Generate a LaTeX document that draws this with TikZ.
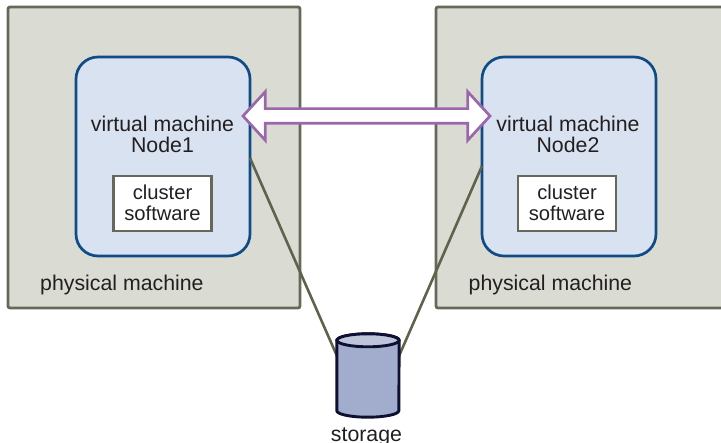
\documentclass[tikz,border=0pt]{standalone}
\usepackage{fontspec}
\setmainfont{Liberation Sans}
\usetikzlibrary{shapes.arrows}
\definecolor{pmfill}{HTML}{DADBD3}
\definecolor{pmline}{HTML}{66685A}
\definecolor{vmfill}{HTML}{D8E2F0}
\definecolor{vmline}{HTML}{0F4C87}
\definecolor{stfill}{HTML}{A2ACCC}
\definecolor{stline}{HTML}{0D1030}
\definecolor{conn}{HTML}{5F634C}
\definecolor{arrowc}{HTML}{9B67AB}
\definecolor{txt}{HTML}{231F20}
\tikzset{
  x=1pt,y=-1pt,
  physbox/.style={draw=pmline,fill=pmfill,line width=2.8pt,rounded corners=2pt,minimum width=292pt,minimum height=301pt,inner sep=0pt},
  vmbox/.style={draw=vmline,fill=vmfill,line width=2.7pt,rounded corners=22pt,minimum width=174pt,minimum height=199pt,inner sep=0pt},
  softbox/.style={draw=pmline,fill=white,line width=2.8pt,minimum width=98pt,minimum height=55pt,inner sep=0pt},
  label/.style={text=txt,inner sep=0pt,align=center,font=\fontsize{21.3}{21}\selectfont},
  softlabel/.style={text=txt,inner sep=0pt,align=center,font=\fontsize{20.2}{21}\selectfont},
  link/.style={draw=conn,line width=2.6pt},
  bothways/.style={double arrow,draw=arrowc,fill=white,line width=2.7pt,inner sep=6pt,minimum height=247pt,double arrow head extend=17pt,double arrow tip angle=95},
  drumline/.style={draw=stline,line width=2.9pt},
}
\begin{document}
\begin{tikzpicture}
\useasboundingbox (0,0) rectangle (721,443);
\clip (0,0) rectangle (721,443);
\node[physbox] (pm1) at (154,157.5) {};
\node[physbox] (pm2) at (582,157.5) {};
\node[vmbox] (vm1) at (163,156.5) {};
\node[vmbox] (vm2) at (569,156.5) {};
\node[softbox] (sw1) at (162.5,203.5) {};
\node[softbox] (sw2) at (567,203.5) {};
\node[softlabel] (cs1) at (162.5,202.5) {cluster\\software};
\node[softlabel] (cs2) at (567,202.5) {cluster\\software};
\node[label] (vt1) at (162.5,134) {virtual machine\\Node1};
\node[label] (vt2) at (568,134) {virtual machine\\Node2};
\node[label,anchor=base west] (pt1) at (40,291) {physical machine};
\node[label,anchor=base west] (pt2) at (468.5,291) {physical machine};
\coordinate (a1) at (250,158);
\coordinate (a2) at (482,166);
\coordinate (b1) at (337,356);
\coordinate (b2) at (399,356);
\draw[link] (a1) -- (b1);
\draw[link] (a2) -- (b2);
\node[minimum width=62pt,minimum height=70pt,inner sep=0pt] (st) at (368,375.5) {};
\path[drumline,fill=stfill] (st.north west) -- (st.south west) arc[start angle=180,end angle=360,x radius=31,y radius=-6.5] -- (st.north east) arc[start angle=0,end angle=180,x radius=31,y radius=-6.5] -- cycle;
\path[drumline,fill=stfill!70!white] (st.north) ellipse[x radius=31,y radius=6.5];
\node[label,anchor=base] (stt) at (366.5,442) {storage};
\node[bothways] (link) at (366.5,116) {};
\end{tikzpicture}
\end{document}
